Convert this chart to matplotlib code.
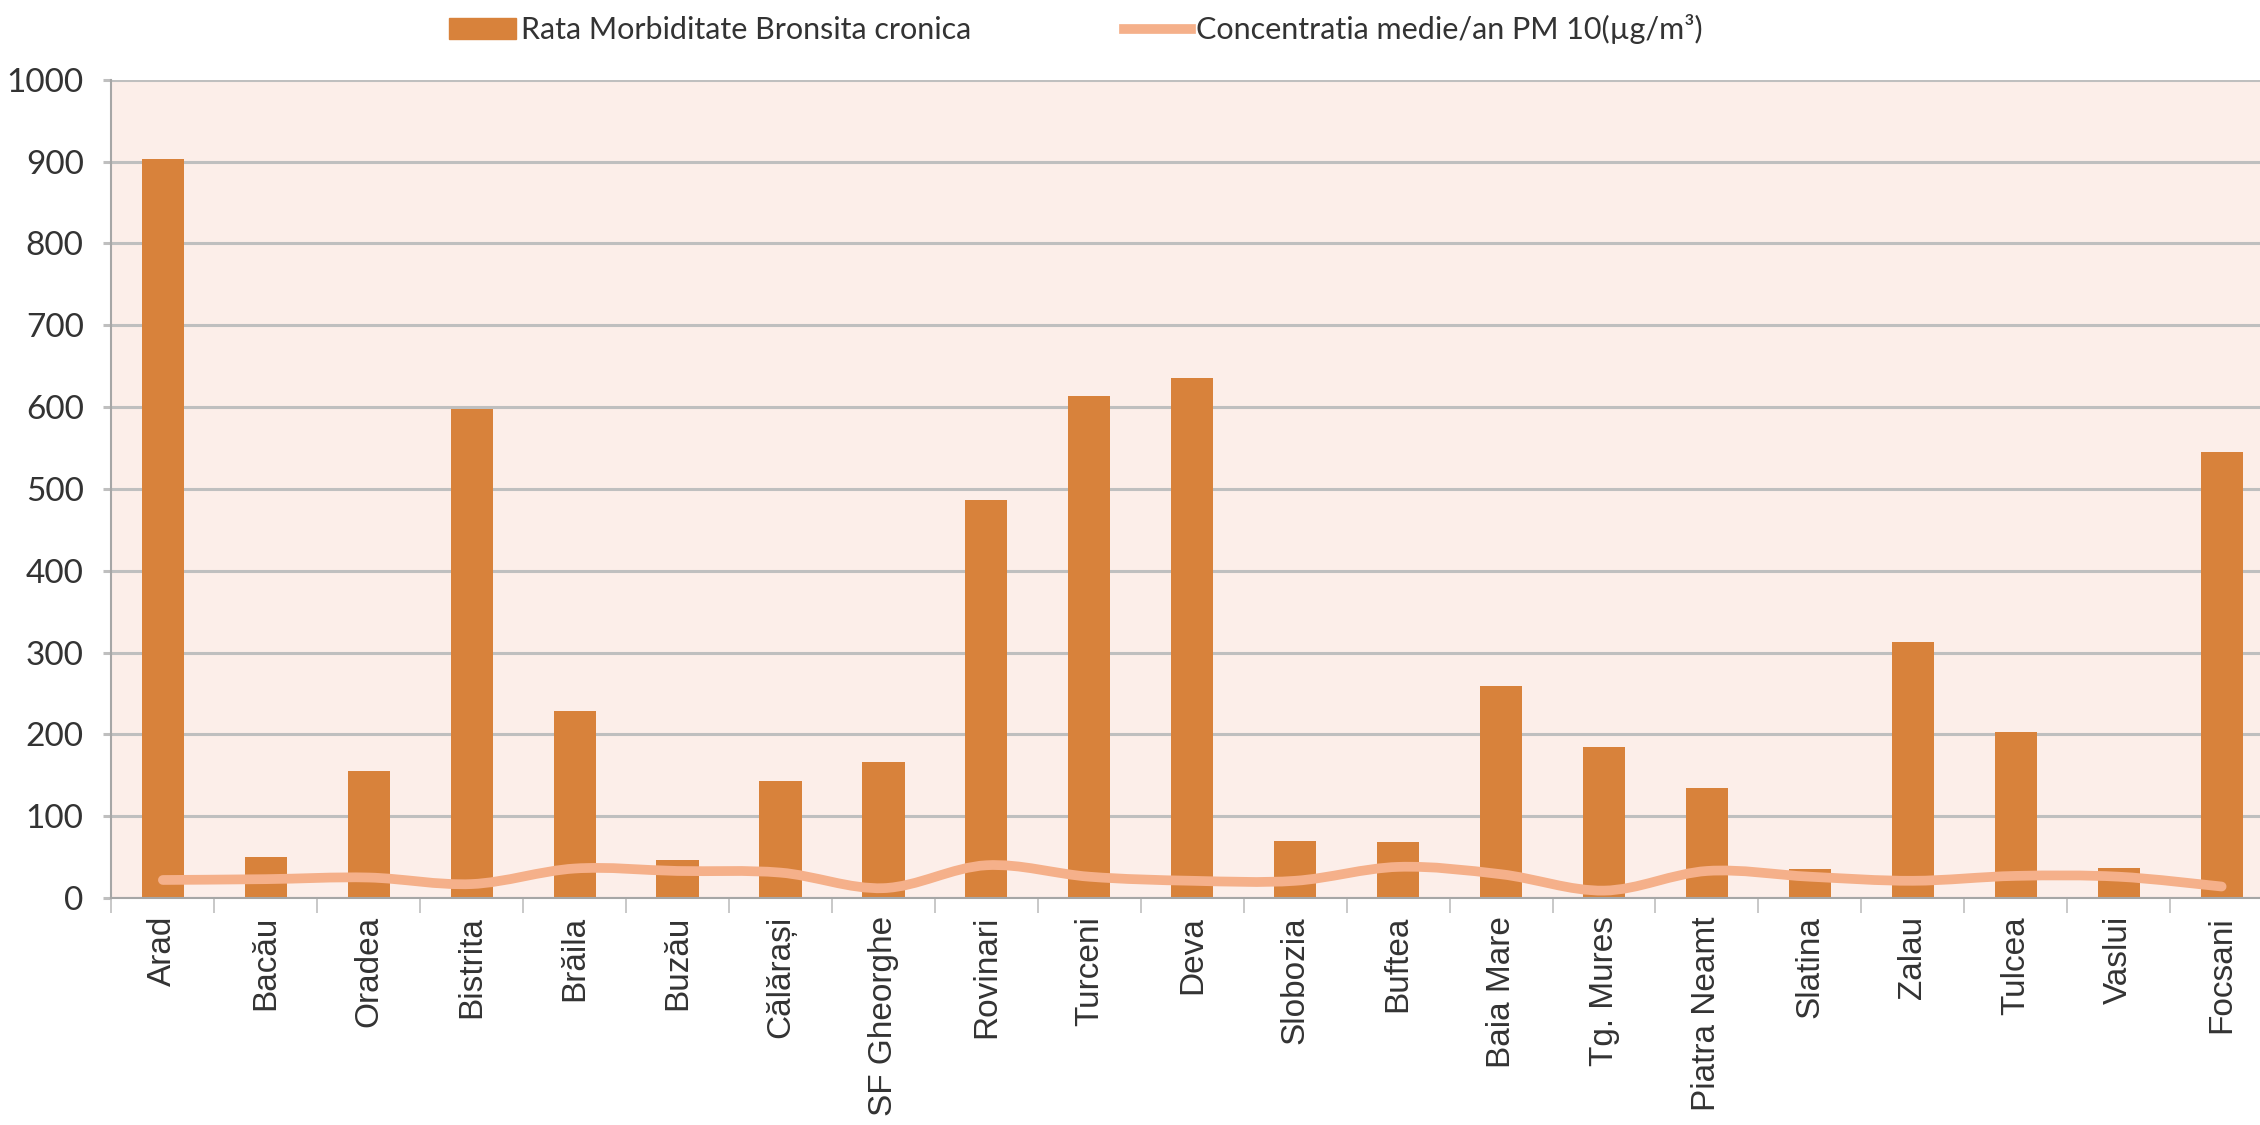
# bar chart of chronic bronchitis morbidity with PM10 line on top
import matplotlib
matplotlib.use('Agg')
import matplotlib.pyplot as plt
from matplotlib.path import Path
from matplotlib.patches import PathPatch
from matplotlib.lines import Line2D
from matplotlib.ticker import FixedLocator

# data
cities = ['Arad', 'Bacău', 'Oradea', 'Bistrita', 'Brăila', 'Buzău', 'Călărași',
          'SF Gheorghe', 'Rovinari', 'Turceni', 'Deva', 'Slobozia', 'Buftea',
          'Baia Mare', 'Tg. Mures', 'Piatra Neamt', 'Slatina', 'Zalau', 'Tulcea',
          'Vaslui', 'Focsani']
morbiditate = [903, 50, 155, 598, 229, 46, 143, 166, 486, 614, 636, 70, 68,
               259, 185, 135, 35, 313, 203, 37, 545]
pm10 = [22, 23, 25, 17, 36, 33, 31, 12, 40, 26, 21, 21, 38, 29, 9, 33, 26,
        21, 27, 26, 14]
yticks = [0, 100, 200, 300, 400, 500, 600, 700, 800, 900, 1000]

bar_label = 'Rata Morbiditate Bronsita cronica'
line_label = 'Concentratia medie/an PM 10(µg/m³)'

BAR_COLOR = '#D8823B'
LINE_COLOR = '#F5B08A'
BG_COLOR = '#FCEEE9'
GRID_COLOR = '#BFBFBF'
TEXT_COLOR = '#333333'
NARROW = ['Lato', 'DejaVu Sans']


def smooth_path(xs, ys):
    """ builds a Catmull-Rom style bezier path through the points (like excel smoothed lines) """
    verts = [(xs[0], ys[0])]
    codes = [Path.MOVETO]
    n = len(xs)
    for i in range(n - 1):
        x0, y0 = (xs[i - 1], ys[i - 1]) if i > 0 else (xs[i], ys[i])
        x1, y1 = xs[i], ys[i]
        x2, y2 = xs[i + 1], ys[i + 1]
        x3, y3 = (xs[i + 2], ys[i + 2]) if i + 2 < n else (x2, y2)
        c1 = (x1 + (x2 - x0) / 6.0, y1 + (y2 - y0) / 6.0)
        c2 = (x2 - (x3 - x1) / 6.0, y2 - (y3 - y1) / 6.0)
        verts += [c1, c2, (x2, y2)]
        codes += [Path.CURVE4] * 3
    return Path(verts, codes)


def create_plot():
    fig = plt.figure(figsize=(22.6, 11.25), dpi=100)
    ax = fig.add_axes([0.0493, 0.2018, 0.9565, 0.7272])
    ax.set_facecolor(BG_COLOR)

    x = list(range(len(cities)))
    ax.bar(x, morbiditate, width=0.41, color=BAR_COLOR, zorder=2)

    line = PathPatch(smooth_path(x, pm10), facecolor='none', edgecolor=LINE_COLOR,
                     linewidth=7, capstyle='round', joinstyle='round', zorder=3)
    ax.add_patch(line)

    ax.set_xlim(-0.5, len(cities) - 0.5)
    ax.set_ylim(0, 1000)
    ax.set_yticks(yticks)
    ax.yaxis.grid(True, color=GRID_COLOR, linewidth=2.2, zorder=1)
    ax.set_axisbelow(True)

    # category labels, tick marks sit between categories
    ax.set_xticks(x)
    ax.set_xticklabels(cities, rotation=90, fontsize=24, family=['Liberation Sans', 'DejaVu Sans'],
                       color=TEXT_COLOR)
    ax.tick_params(axis='x', which='major', length=0, pad=13)
    ax.xaxis.set_minor_locator(FixedLocator([i + 0.5 for i in range(-1, len(cities))]))
    ax.tick_params(axis='x', which='minor', length=11, width=1.2, color=GRID_COLOR)

    for lab in ax.get_yticklabels():
        lab.set_family(NARROW)
        lab.set_fontsize(24)
        lab.set_color(TEXT_COLOR)
    ax.tick_params(axis='y', length=6, width=2.2, color=GRID_COLOR, pad=14)

    for side in ['top', 'right']:
        ax.spines[side].set_visible(False)
    ax.spines['left'].set_color('#A6A6A6')
    ax.spines['left'].set_linewidth(1.5)
    ax.spines['bottom'].set_color('#A6A6A6')
    ax.spines['bottom'].set_linewidth(1.5)

    # legend on top
    handles = [plt.Rectangle((0, 0), 1, 1, color=BAR_COLOR),
               Line2D([0], [0], color=LINE_COLOR, linewidth=7)]
    fig.legend(handles, [bar_label, line_label], loc='center', ncol=2,
               bbox_to_anchor=(0.476, 0.974), frameon=False,
               prop={'family': NARROW, 'size': 22},
               handlelength=2.2, handletextpad=0.15, columnspacing=5.0,
               labelcolor=TEXT_COLOR)

    fig.savefig('out.png', dpi=100)


def main():
    create_plot()

main()
